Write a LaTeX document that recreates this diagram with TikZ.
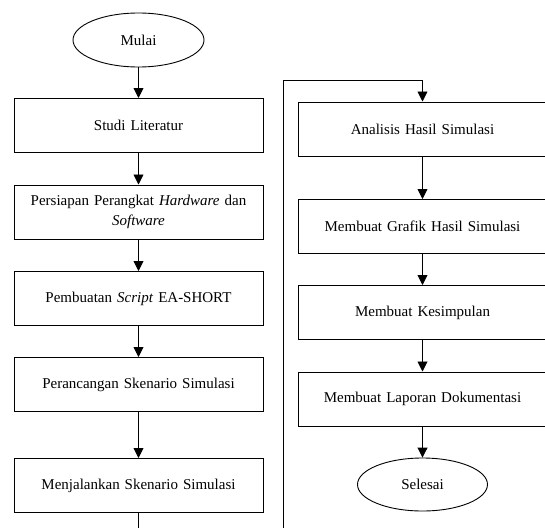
\documentclass[tikz,border=0pt]{standalone}
\usepackage{fontspec}
\setmainfont{Liberation Serif}
\usetikzlibrary{shapes.geometric,arrows.meta}
\begin{document}
\begin{tikzpicture}[x=1pt,y=-1pt,
  every node/.style={font=\fontsize{15}{20}\selectfont},
  procbox/.style={draw,line width=1pt,rectangle,minimum width=249pt,minimum height=54pt,inner sep=2pt,align=center,text width=240pt},
  term/.style={draw,line width=0.9pt,ellipse,minimum width=131pt,minimum height=54pt,inner sep=0pt},
  arr/.style={draw,line width=0.9pt,-{Triangle[width=10pt,length=10pt]}},
  lin/.style={draw,line width=0.9pt}]
\useasboundingbox (0,0) rectangle (545,527);
\node[term] (mulai) at (138.5,40) {Mulai};
\node[procbox] (studi) at (138.5,125.5) {Studi Literatur};
\node[procbox] (persiapan) at (138.5,212) {Persiapan Perangkat \textit{Hardware} dan\\\textit{Software}};
\node[procbox] (pembuatan) at (138.5,298.5) {Pembuatan \textit{Script} EA-SHORT};
\node[procbox] (perancangan) at (138.5,384.5) {Perancangan Skenario Simulasi};
\node[procbox] (menjalankan) at (138.5,485.5) {Menjalankan Skenario Simulasi};
\node[procbox] (analisis) at (422.5,129) {Analisis Hasil Simulasi};
\node[procbox] (grafik) at (422.5,226.5) {Membuat Grafik Hasil Simulasi};
\node[procbox] (kesimpulan) at (422.5,312.5) {Membuat Kesimpulan};
\node[procbox] (laporan) at (422.5,399) {Membuat Laporan Dokumentasi};
\node[term,minimum width=130pt,minimum height=53pt] (selesai) at (422.5,484.5) {Selesai};
\coordinate (b1) at (138.5,545);
\coordinate (b2) at (283,545);
\coordinate (t) at (283,80);
\draw[arr] (mulai) -- (studi);
\draw[arr] (studi) -- (persiapan);
\draw[arr] (persiapan) -- (pembuatan);
\draw[arr] (pembuatan) -- (perancangan);
\draw[arr] (perancangan) -- (menjalankan);
\draw[arr] (menjalankan.south) -- (b1) -- (b2) -- (t) -| (analisis.north);
\draw[arr] (analisis) -- (grafik);
\draw[arr] (grafik) -- (kesimpulan);
\draw[arr] (kesimpulan) -- (laporan);
\draw[arr] (laporan) -- (selesai);
\end{tikzpicture}
\end{document}
